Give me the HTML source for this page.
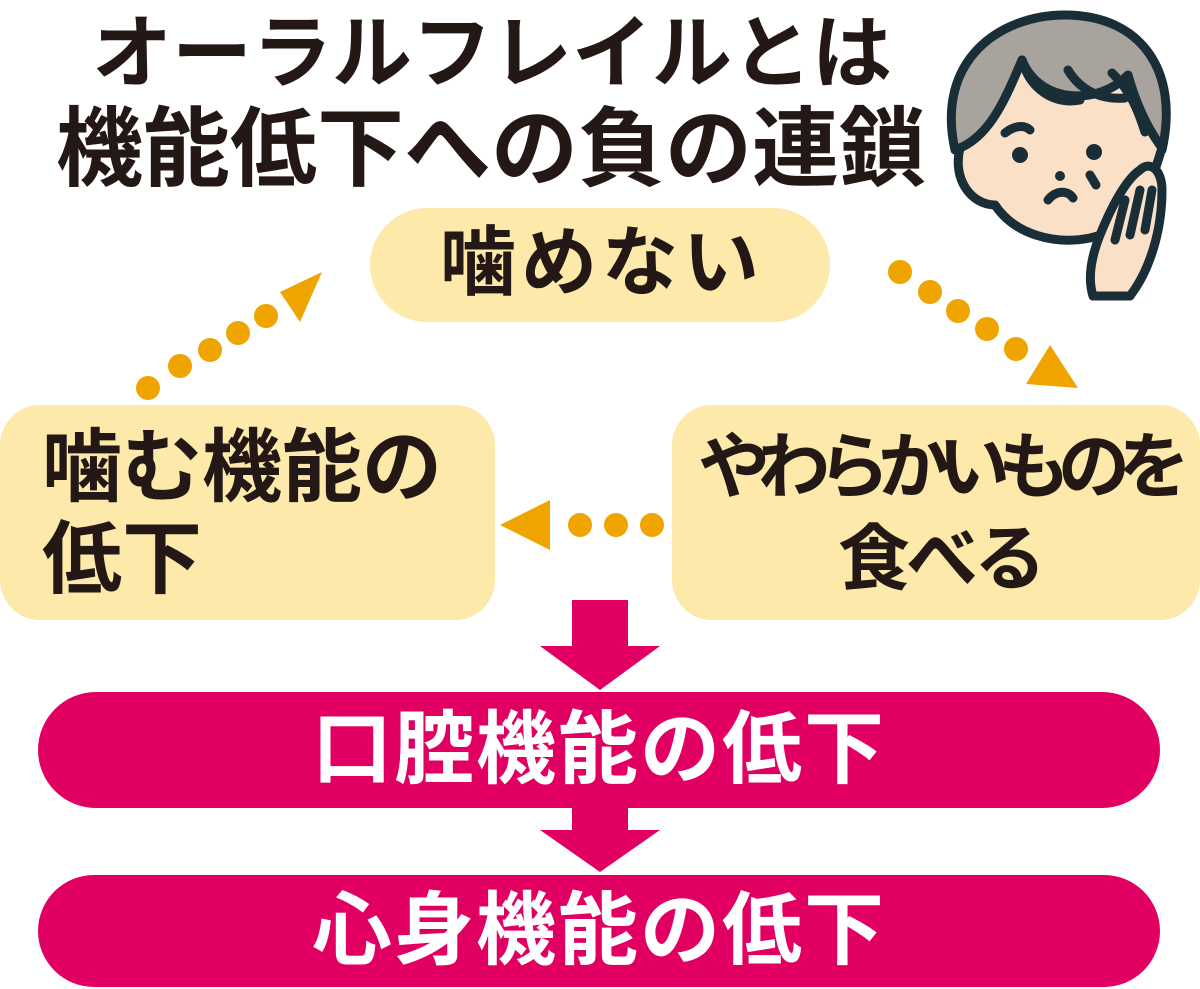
<!DOCTYPE html>
<html><head><meta charset="utf-8"><style>
body{margin:0;width:1200px;height:989px;background:#fff;position:relative;overflow:hidden;font-family:"Liberation Sans","Noto Sans CJK JP",sans-serif;font-weight:bold;color:#231815}
.t{position:absolute;white-space:nowrap;line-height:1}
.box{position:absolute;background:#fde9a9;}
.mag{position:absolute;background:#e10062;color:#fff;border-radius:58px;text-align:center}
</style></head><body>
<div class="t" style="left:92px;top:14px;font-size:80px;letter-spacing:0px">オーラルフレイルとは</div>
<div class="t" style="left:56px;top:106px;font-size:87px;letter-spacing:0px">機能低下への負の連鎖</div>

<div class="box" style="left:370px;top:208px;width:460px;height:114px;border-radius:57px"></div>
<div class="t" style="left:440px;top:226px;font-size:76px;letter-spacing:5px">噛めない</div>

<div class="box" style="left:0;top:405px;width:495px;height:215px;border-radius:40px"></div>
<div class="t" style="left:42px;top:422px;font-size:80px;line-height:92px">噛む機能の<br>低下</div>

<div class="box" style="left:672px;top:405px;width:528px;height:215px;border-radius:40px"></div>
<div class="t" style="left:698px;top:422px;font-size:72px;line-height:92px;letter-spacing:-12px">やわらかいものを</div>
<div class="t" style="left:838px;top:514px;font-size:72px;line-height:92px;letter-spacing:-4px">食べる</div>

<div class="mag" style="left:38px;top:692px;width:1122px;height:116px;"><span style="font-size:80px;line-height:116px;letter-spacing:2px">口腔機能の低下</span></div>
<div class="mag" style="left:38px;top:875px;width:1122px;height:112px;"><span style="font-size:80px;line-height:112px;letter-spacing:2px">心身機能の低下</span></div>

<svg style="position:absolute;left:0;top:0" width="1200" height="989">
<g fill="#e10062">
<polygon points="572,600 628,600 628,646 660,646 600,690 540,646 572,646"/>
<polygon points="572,808 628,808 628,830 660,830 600,872 540,830 572,830"/>
</g>
<g fill="#f0a400">
<circle cx="148" cy="388" r="12"/><circle cx="180" cy="366" r="12"/><circle cx="210" cy="350" r="12"/><circle cx="238" cy="333" r="12"/><circle cx="266" cy="316" r="12"/>
<polygon points="322,272 300,322 280,292"/>
<circle cx="900" cy="272" r="12"/><circle cx="930" cy="292" r="12"/><circle cx="958" cy="311" r="12"/><circle cx="987" cy="329" r="12"/><circle cx="1016" cy="349" r="12"/>
<polygon points="1078,388 1026,384 1050,345"/>
<circle cx="652" cy="525" r="12"/><circle cx="616" cy="525" r="12"/><circle cx="580" cy="525" r="12"/>
<polygon points="500,525 550,500 550,550"/>
</g>
<g stroke="#1a2e38" stroke-width="9" stroke-linecap="round" stroke-linejoin="round">
<path d="M955,150 C935,60 1000,15 1065,15 C1140,15 1180,70 1162,150 Z" fill="#a8a39d"/>
<path d="M960,148 C952,180 972,205 995,205 C1015,235 1055,245 1090,238 C1125,230 1150,205 1155,170 L1162,148 C1145,125 1135,100 1128,75 C1100,105 1040,105 1022,60 C1005,100 990,135 960,148 Z" fill="#fbe0c8"/>
<path d="M1100,235 C1090,260 1088,280 1093,296 L1130,296 C1150,270 1162,230 1162,190 C1162,170 1150,160 1140,170 C1125,180 1110,210 1100,235 Z" fill="#fbe0c8"/>
<path d="M1125,200 L1115,240 M1140,190 L1130,235 M1152,190 L1145,230" fill="none"/>
<path d="M1022,60 C1030,90 1055,105 1080,100 M1068,70 C1080,90 1100,100 1125,98 M1112,73 C1130,90 1138,110 1145,132" fill="none"/>
<path d="M1005,133 C1015,125 1025,125 1030,130 M1048,200 C1056,190 1068,190 1073,198 M1090,175 L1096,185" fill="none"/>
</g>
<g fill="#1a2e38"><circle cx="1020" cy="155" r="8"/><circle cx="1094" cy="152" r="8"/><circle cx="1060" cy="176" r="5"/></g>
</svg>
</body></html>
